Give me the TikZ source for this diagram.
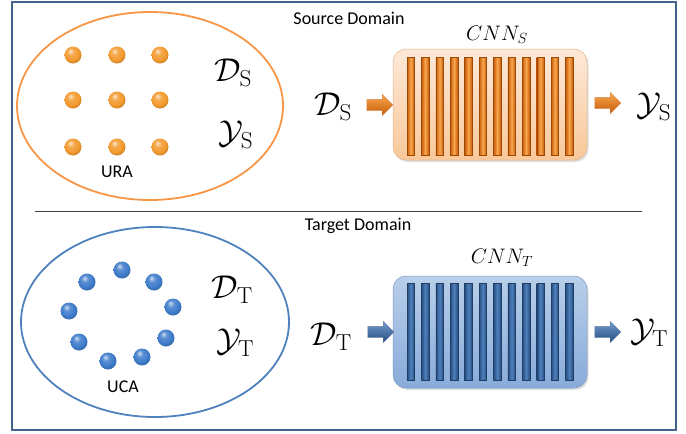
\RequirePackage{fix-cm}
\documentclass[tikz,border=0pt]{standalone}
\usepackage{fontspec}
\newfontfamily\calib{Carlito}
\usetikzlibrary{shapes.geometric,shapes.arrows,shadows}
\definecolor{framec}{HTML}{41648F}
\definecolor{orline}{HTML}{F79646}
\definecolor{blline}{HTML}{4F81BD}
\definecolor{ordot}{HTML}{F39A2E}
\definecolor{bldot}{HTML}{3E7BCB}
\definecolor{orboxA}{HTML}{FDE9D9}
\definecolor{orboxB}{HTML}{F9C89A}
\definecolor{orbarD}{HTML}{C65A08}
\definecolor{orbarL}{HTML}{F9A84E}
\definecolor{blboxA}{HTML}{B9CFEA}
\definecolor{blboxB}{HTML}{88ABDA}
\definecolor{blbarD}{HTML}{274D80}
\definecolor{blbarL}{HTML}{4F81BD}
\pgfdeclareradialshading{oball}{\pgfqpoint{-8bp}{12bp}}{color(0bp)=(ordot!25!white); color(10bp)=(ordot!85!white); color(22bp)=(ordot); color(34bp)=(ordot!75!black); color(50bp)=(ordot!45!black)}
\pgfdeclareradialshading{bball}{\pgfqpoint{-8bp}{12bp}}{color(0bp)=(bldot!25!white); color(10bp)=(bldot!85!white); color(22bp)=(bldot); color(34bp)=(bldot!75!black); color(50bp)=(bldot!45!black)}
\tikzset{
  lbl/.style={font=\calib\fontsize{18}{20}\selectfont, inner sep=0pt},
  bigm/.style={font=\fontsize{33}{37}\selectfont, inner sep=0pt},
  cnnl/.style={font=\fontsize{21}{23}\selectfont, inner sep=0pt},
  odot/.style={circle, inner sep=0pt, minimum size=17pt, shading=oball},
  bdot/.style={circle, inner sep=0pt, minimum size=17pt, shading=bball},
  cnnbox/.style={rounded corners=13pt, minimum width=194pt, inner sep=0pt,
     drop shadow={opacity=0.25, shadow xshift=1.5pt, shadow yshift=-2pt}},
  obar/.style={minimum width=7.5pt, minimum height=98pt, inner sep=0pt,
     left color=orbarD, right color=orbarD, middle color=orbarL, draw=orbarD!80!black, line width=0.3pt},
  bbar/.style={minimum width=7.5pt, minimum height=97pt, inner sep=0pt,
     left color=blbarD, right color=blbarD, middle color=blbarL, draw=blbarD!80!black, line width=0.3pt},
  oarr/.style={single arrow, minimum height=26pt, single arrow head extend=5pt,
     inner sep=5.5pt, top color=orbarL, bottom color=orbarD, draw=orbarD!70, line width=0.3pt},
  barr/.style={single arrow, minimum height=26pt, single arrow head extend=5pt,
     inner sep=5.5pt, top color=blbarL!80, bottom color=blbarD, draw=blbarD!70, line width=0.3pt},
}
\begin{document}
\begin{tikzpicture}[x=1pt,y=-1pt]
\useasboundingbox (0,0) rectangle (686,434);
% frame
\node[draw=framec, line width=2.5pt, minimum width=664pt, minimum height=428pt, inner sep=0pt] (frame) at (344,216) {};
\coordinate (sepL) at (35,211);
\coordinate (sepR) at (642,211);
\draw[line width=0.8pt, black!75] (sepL) -- (sepR);

% ---------- Source domain ----------
\node[lbl] (srcd) at (349,18) {Source Domain};
\node[ellipse, draw=orline, line width=1.8pt, minimum width=266pt, minimum height=188pt, inner sep=0pt] (ura) at (150,106) {};
\foreach \i/\x in {1/73,2/117,3/160}{
  \foreach \j/\y in {1/55,2/100,3/147}{
    \node[odot] (s\i\j) at (\x,\y) {};
  }
}
\node[lbl] (uratxt) at (117,172) {URA};
\node[bigm] (dsin) at (233,73) {$\mathcal{D}_{\mathrm{S}}$};
\node[bigm] (ysin) at (236,135) {$\mathcal{Y}_{\mathrm{S}}$};

\node[cnnl] (cnnslbl) at (497,35) {$CNN_S$};
\node[cnnbox, minimum height=111pt, top color=orboxA, bottom color=orboxB, draw=orboxB!90!black, line width=0.5pt] (cnns) at (490,104.5) {};
\foreach \k in {0,...,11}{
  \node[obar] (sb\k) at ({410.75+14.41*\k},106) {};
}
\node[bigm] (dsl) at (333,107) {$\mathcal{D}_{\mathrm{S}}$};
\node[oarr] (sin) at (377,105) {};
\node[oarr] (sout) at (605,103) {};
\node[bigm] (ysl) at (654,107) {$\mathcal{Y}_{\mathrm{S}}$};

% ---------- Target domain ----------
\node[lbl] (tgtd) at (358,226) {Target Domain};
\node[ellipse, draw=blline, line width=1.8pt, minimum width=268pt, minimum height=190pt, inner sep=0pt] (uca) at (155,322) {};
\node[bdot] (t1) at (122,270) {};
\node[bdot] (t2) at (154,282) {};
\node[bdot] (t3) at (173,307) {};
\node[bdot] (t4) at (166,338) {};
\node[bdot] (t5) at (142,357) {};
\node[bdot] (t6) at (108,361) {};
\node[bdot] (t7) at (79,342) {};
\node[bdot] (t8) at (69,311) {};
\node[bdot] (t9) at (87,282) {};
\node[lbl] (ucatxt) at (123,387) {UCA};
\node[bigm] (dtin) at (232,290) {$\mathcal{D}_{\mathrm{T}}$};
\node[bigm] (ytin) at (235,343) {$\mathcal{Y}_{\mathrm{T}}$};

\node[cnnl] (cnntlbl) at (502,258) {$CNN_T$};
\node[cnnbox, minimum height=112pt, top color=blboxA, bottom color=blboxB, draw=blboxB!90!black, line width=0.5pt] (cnnt) at (490,332) {};
\foreach \k in {0,...,11}{
  \node[bbar] (tb\k) at ({410.75+14.41*\k},331.5) {};
}
\node[bigm] (dtl) at (331,337) {$\mathcal{D}_{\mathrm{T}}$};
\node[barr] (tin) at (378,332) {};
\node[barr] (tout) at (605,332) {};
\node[bigm] (ytl) at (649,333) {$\mathcal{Y}_{\mathrm{T}}$};
\end{tikzpicture}
\end{document}
